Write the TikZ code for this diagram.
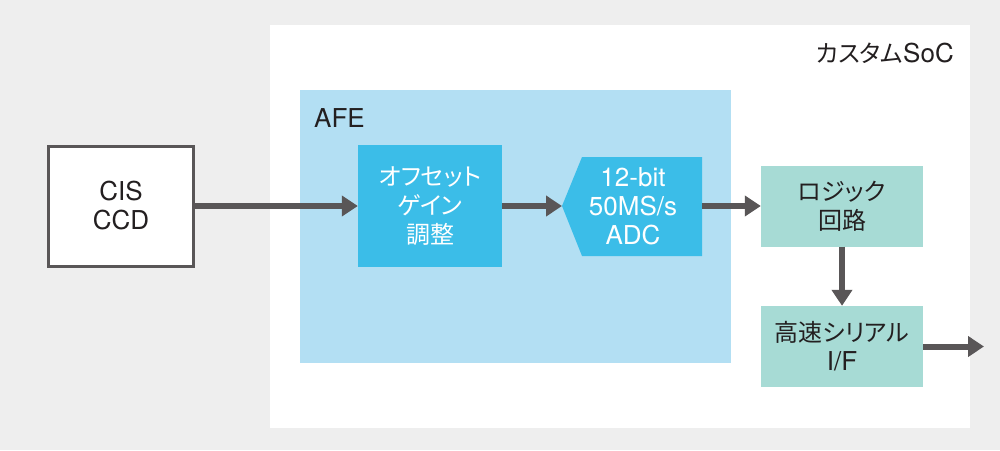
\documentclass[tikz,border=0pt]{standalone}
\usepackage{fontspec}
\setmainfont{TeX Gyre Heros}
\newfontfamily\jp[RawFeature=+palt]{Noto Sans CJK JP}
\usetikzlibrary{arrows.meta}
\definecolor{bgc}{HTML}{EEEEEE}
\definecolor{afec}{HTML}{B3DFF3}
\definecolor{bluec}{HTML}{3BBDE8}
\definecolor{tealc}{HTML}{A7DBD5}
\definecolor{arrc}{HTML}{595657}
\definecolor{txtc}{HTML}{231F20}
\newcommand{\jpf}{\fontsize{24}{29}\selectfont\jp}
\begin{document}
\begin{tikzpicture}[x=1pt,y=-1pt,
  lbl/.style={font=\fontsize{26}{29}\selectfont, text=txtc, inner sep=0pt},
  block/.style={inner sep=0pt, align=center, font=\fontsize{26}{29}\selectfont},
  area/.style={inner sep=0pt, anchor=north west},
  bluebox/.style={block, fill=bluec, text=white},
  tealbox/.style={block, fill=tealc, text=txtc},
  flow/.style={draw=arrc, line width=6pt, -{Triangle[length=16pt,width=20pt]}}
]
\fill[bgc] (0,0) rectangle (1000,450);
\useasboundingbox (0,0) rectangle (1000,450);
\node[area, fill=white, minimum width=700pt, minimum height=403pt] (soc) at (270,25) {};
\node[area, fill=afec, minimum width=431pt, minimum height=273pt] (afe) at (300,90) {};
\node[lbl, anchor=base east] (soclbl) at (954,62) {{\jpf カスタム}SoC};
\node[lbl, anchor=base west] (afelbl) at (314,127) {AFE};
\node[block, draw=arrc, line width=3pt, fill=white, text=txtc,
      minimum width=145pt, minimum height=120pt] (cis) at (121,206) {CIS\\CCD};
\node[bluebox, font=\jpf, minimum width=144pt, minimum height=122pt] (ofs) at (430,206) {オフセット\\ゲイン\\調整};
\fill[bluec] (582,157) -- (702,157) -- (702,256) -- (582,256) -- (562,206) -- cycle;
\node[block, text=white] (adc) at (633,206) {12-bit\\50MS/s\\ADC};
\coordinate (adcin) at (562,206);
\coordinate (adcout) at (702,206);
\node[tealbox, font=\jpf, minimum width=162pt, minimum height=81pt] (logic) at (842,206) {ロジック\\回路};
\node[tealbox, minimum width=162pt, minimum height=81pt] (serial) at (842,346.5) {{\jpf 高速シリアル}\\I/F};
\coordinate (out) at (984,346.5);
\draw[flow] (cis.east) -- (ofs.west);
\draw[flow] (ofs.east) -- (adcin);
\draw[flow] (adcout) -- (logic.west);
\draw[flow] (logic.south) -- (serial.north);
\draw[flow] (serial.east) -- (out);
\end{tikzpicture}
\end{document}
